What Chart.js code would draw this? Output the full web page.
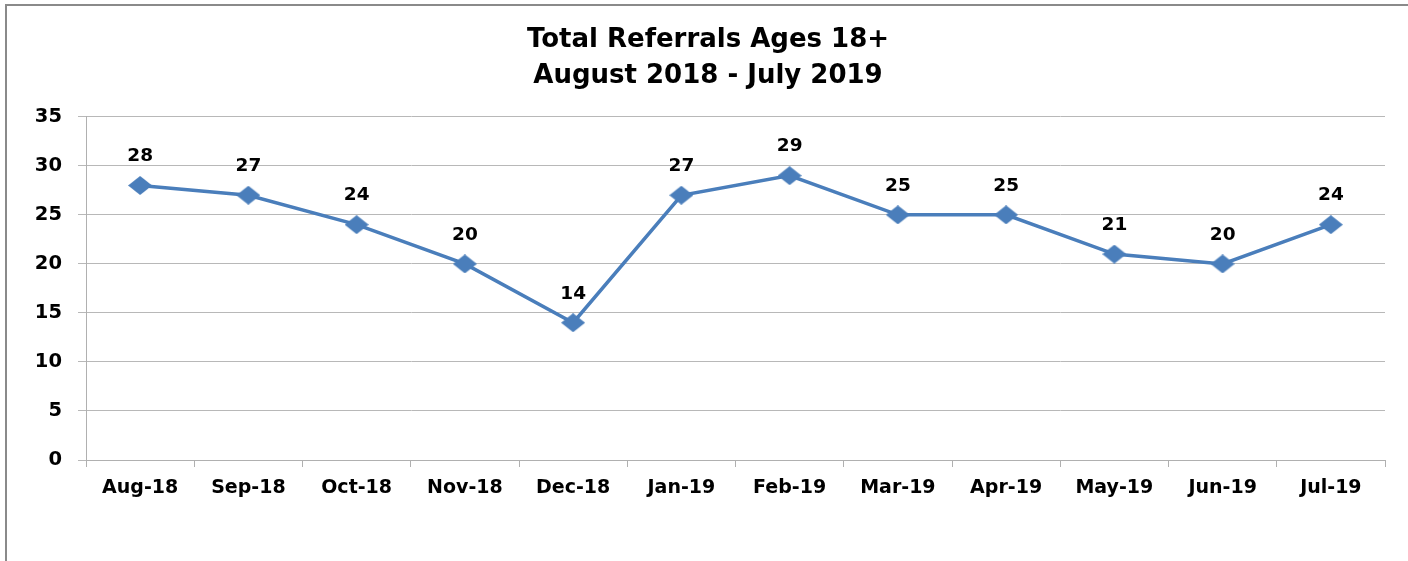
<!DOCTYPE html>
<html>
<head>
<meta charset="utf-8">
<script src="https://cdn.jsdelivr.net/npm/chart.js@4/dist/chart.umd.min.js"></script>
<style>
  html, body { margin: 0; padding: 0; background: #fff; }
  #wrap { position: relative; width: 1408px; height: 561px; overflow: hidden; }
  canvas { display: block; }
</style>
</head>
<body>
<div id="wrap"><canvas id="c" width="1408" height="561"></canvas></div>
<script>
const categories = ["Aug-18","Sep-18","Oct-18","Nov-18","Dec-18","Jan-19","Feb-19","Mar-19","Apr-19","May-19","Jun-19","Jul-19"];
const referrals = [28, 27, 24, 20, 14, 27, 29, 25, 25, 21, 20, 24];
const titleLines = ["Total Referrals Ages 18+", "August 2018 - July 2019"];
const yMin = 0, yMax = 35, yStep = 5;

const FONT = "'DejaVu Sans', Verdana, sans-serif";
const LINE_COLOR = '#4a7ebb';

// stretched diamond marker
function makeDiamond(w, h, color) {
  const cv = document.createElement('canvas');
  cv.width = w; cv.height = h;
  const g = cv.getContext('2d');
  g.fillStyle = color;
  g.beginPath();
  g.moveTo(w / 2, 0);
  g.lineTo(w, h / 2);
  g.lineTo(w / 2, h);
  g.lineTo(0, h / 2);
  g.closePath();
  g.fill();
  return cv;
}
const diamond = makeDiamond(24, 19, LINE_COLOR);

const framePlugin = {
  id: 'frame',
  beforeDraw(chart) {
    const ctx = chart.ctx;
    ctx.save();
    ctx.strokeStyle = '#8a8a8a';
    ctx.lineWidth = 2;
    ctx.beginPath();
    ctx.moveTo(6, 600);
    ctx.lineTo(6, 5);
    ctx.lineTo(1410, 5);
    ctx.stroke();
    ctx.restore();
  }
};

const labelPlugin = {
  id: 'valueLabels',
  afterDatasetsDraw(chart) {
    const ctx = chart.ctx;
    const meta = chart.getDatasetMeta(0);
    ctx.save();
    ctx.font = "bold 18.5px " + FONT;
    ctx.fillStyle = '#000';
    ctx.textAlign = 'center';
    ctx.textBaseline = 'middle';
    meta.data.forEach((pt, i) => {
      ctx.fillText(String(chart.data.datasets[0].data[i]), pt.x, pt.y - 29);
    });
    ctx.restore();
  }
};

new Chart(document.getElementById('c'), {
  type: 'line',
  data: {
    labels: categories,
    datasets: [{
      data: referrals,
      borderColor: LINE_COLOR,
      backgroundColor: LINE_COLOR,
      borderWidth: 3.5,
      pointStyle: diamond,
      tension: 0,
      fill: false
    }]
  },
  options: {
    responsive: false,
    animation: false,
    devicePixelRatio: 1,
    layout: { padding: { left: 31, right: 23, top: 0, bottom: 0 } },
    plugins: {
      legend: { display: false },
      tooltip: { enabled: false },
      title: {
        display: true,
        text: titleLines,
        color: '#000',
        font: { family: FONT, size: 26, weight: 'bold', lineHeight: 1.4 },
        padding: { top: 22, bottom: 22 }
      }
    },
    scales: {
      x: {
        offset: true,
        grid: { offset: true, drawOnChartArea: false, drawTicks: true, tickLength: 7, color: '#b0b0b0' },
        border: { color: '#b0b0b0', width: 1 },
        ticks: { color: '#000', padding: 10, font: { family: FONT, size: 19, weight: 'bold' }, maxRotation: 0, autoSkip: false },
        afterFit(scale) { scale.height = 101; }
      },
      y: {
        min: yMin, max: yMax,
        grid: { color: '#b8b8b8', tickLength: 8, drawTicks: true },
        border: { color: '#b0b0b0', width: 1 },
        ticks: { stepSize: yStep, color: '#000', padding: 16, font: { family: FONT, size: 19.5, weight: 'bold' } },
        afterFit(scale) { scale.width = 55; }
      }
    }
  },
  plugins: [framePlugin, labelPlugin]
});
</script>
</body>
</html>
